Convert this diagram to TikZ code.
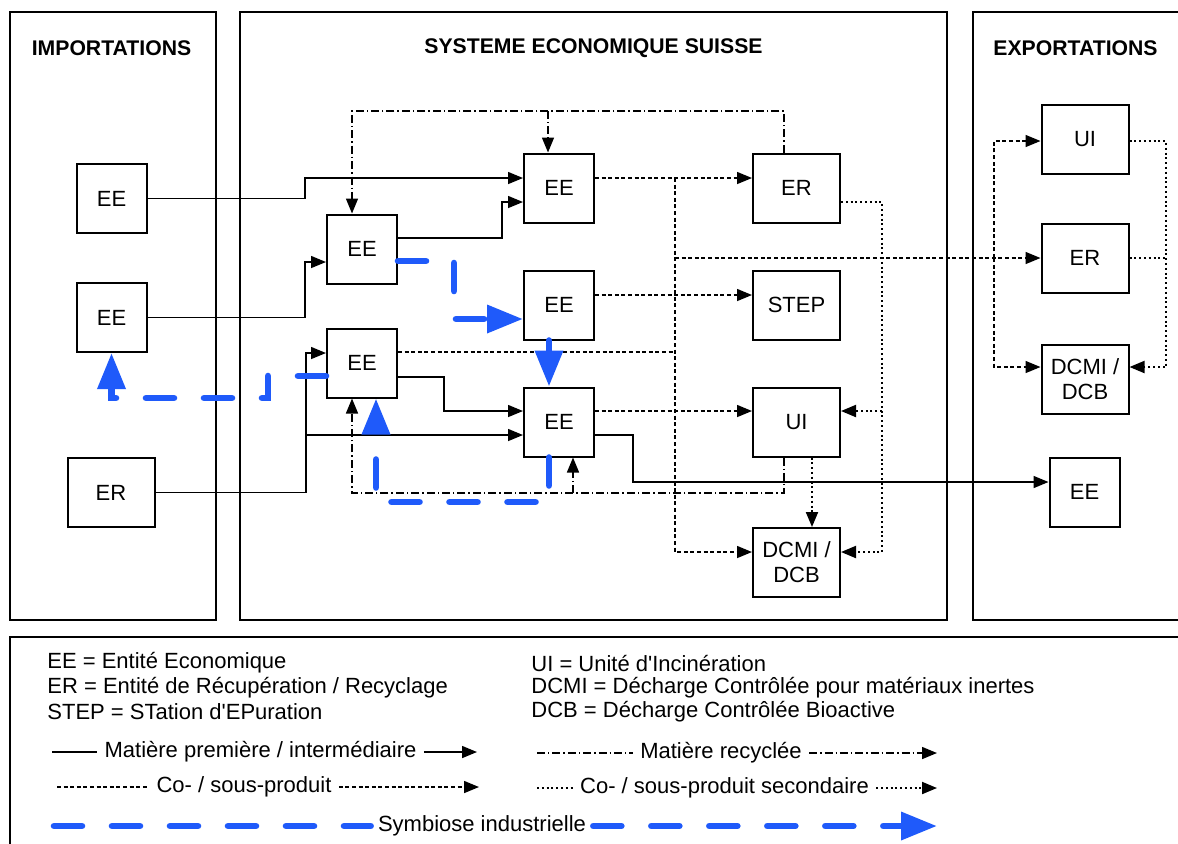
\documentclass[tikz,border=0pt]{standalone}
\usepackage{fontspec}
\setmainfont{Liberation Sans}
\usetikzlibrary{arrows.meta}

\definecolor{symblue}{RGB}{31,90,250}

\tikzset{
  entity/.style={draw,line width=1pt,minimum width=35pt,minimum height=34.5pt,
    inner sep=1pt,align=center,font=\fontsize{11}{12.5}\selectfont},
  bigentity/.style={entity,minimum width=43.5pt},
  panel/.style={draw,line width=0.8pt},
  paneltitle/.style={font=\bfseries\fontsize{10.6}{12}\selectfont},
  legtext/.style={inner sep=3.5pt,font=\fontsize{11}{12}\selectfont},
  flux/.style={line width=0.75pt,-{Triangle[length=7.5pt,width=6pt]}},
  matiere/.style={flux},
  recycle/.style={flux,dash pattern=on 4pt off 1.5pt on 0.7pt off 1.5pt},
  coprod/.style={flux,dash pattern=on 2pt off 1.3pt},
  secprod/.style={flux,line width=1pt,dash pattern=on 1pt off 1.4pt},
  symbiose/.style={line width=3.3pt,symblue,line cap=round,
    dash pattern=on 14pt off 15pt,-{Triangle[length=18pt,width=13.5pt]}}
}

\begin{document}
\begin{tikzpicture}[x=0.5pt,y=-0.5pt]
  \useasboundingbox (0,0) rectangle (1178,843);

  % cadres
  \draw[panel] (10,12) rectangle (216,620);
  \draw[panel] (240,12) rectangle (947,620);
  \draw[panel] (1186,12) -- (973,12) -- (973,620) -- (1186,620);
  \draw[panel] (1186,637) -- (10,637) -- (10,850);
  \node[paneltitle] (tImp) at (111.5,48) {IMPORTATIONS};
  \node[paneltitle] (tSys) at (593.5,48) {SYSTEME ECONOMIQUE SUISSE};
  \node[paneltitle] (tExp) at (1075.5,48) {EXPORTATIONS};

  % importations
  \node[entity] (impEEa) at (111.5,198.5) {EE};
  \node[entity] (impEEb) at (111.5,317.5) {EE};
  \node[bigentity] (impER) at (111,492.5) {ER};

  % systeme economique
  \node[entity] (eeB1) at (362,249) {EE};
  \node[entity] (eeB2) at (362,363) {EE};
  \node[entity] (eeA1) at (559,188) {EE};
  \node[entity] (eeA2) at (559,305) {EE};
  \node[entity] (eeA3) at (559,422) {EE};
  \node[bigentity] (erC) at (796.5,188) {ER};
  \node[bigentity] (step) at (796.5,305) {STEP};
  \node[bigentity] (uiC) at (796.5,422) {UI};
  \node[bigentity] (dcmiC) at (796.5,562.5) {DCMI /\\DCB};

  % exportations
  \node[bigentity] (uiX) at (1085,139.5) {UI};
  \node[bigentity] (erX) at (1085,258) {ER};
  \node[bigentity] (dcmiX) at (1085,379) {DCMI /\\DCB};
  \node[entity] (eeX) at (1084.5,492) {EE};

  % matiere premiere / intermediaire
  \draw[matiere] (impEEa.east) -- (305,198.5) |- ([yshift=5pt]eeA1.west);
  \draw[matiere] ([yshift=5.5pt]eeB1.east) -- (502,238) |- ([yshift=-7pt]eeA1.west);
  \draw[matiere] (impEEb.east) -- (305,317.5) |- ([yshift=-6.5pt]eeB1.west);
  \draw[matiere] (impER.east) -- (306,492.5) |- ([yshift=5pt]eeB2.west);
  \draw[matiere] (306,435) -- ([yshift=-6.5pt]eeA3.west);
  \draw[matiere] ([yshift=-7pt]eeB2.east) -- (444,377) |- ([yshift=5.5pt]eeA3.west);
  \draw[matiere] ([yshift=-6.5pt]eeA3.east) -- (633,435) |- ([yshift=5pt]eeX.west);

  % matiere recyclee
  \draw[recycle] ([xshift=-6.25pt]erC.north) |- (352,111) -- ([xshift=-5pt]eeB1.north);
  \draw[recycle] (548,111) -- ([xshift=-5.5pt]eeA1.north);
  \draw[recycle] ([xshift=-6.25pt]uiC.south) |- (352,493) -- ([xshift=-5pt]eeB2.south);
  \draw[recycle] (573,493) -- ([xshift=7pt]eeA3.south);

  % co- / sous-produit
  \draw[coprod] ([yshift=5pt]eeA1.east) -- ([yshift=5pt]erC.west);
  \draw[coprod] (675,178) |- ([yshift=5.25pt]dcmiC.west);
  \draw[coprod] ([yshift=5pt]eeA2.east) -- ([yshift=5pt]step.west);
  \draw[coprod,-] ([yshift=5.5pt]eeB2.east) -- (675,352);
  \draw[coprod] ([yshift=5.5pt]eeA3.east) -- ([yshift=5.5pt]uiC.west);
  \draw[coprod] (675,258) -- (erX.west);
  \draw[coprod] (994,258) |- ([yshift=-0.75pt]uiX.west);
  \draw[coprod] (994,258) |- ([yshift=6pt]dcmiX.west);

  % co- / sous-produit secondaire
  \draw[secprod] ([yshift=-7pt]erC.east) -- (882,202) |- ([yshift=5.25pt]dcmiC.east);
  \draw[secprod] (882,411) -- ([yshift=5.5pt]uiC.east);
  \draw[secprod] ([xshift=7.75pt]uiC.south) -- ([xshift=7.75pt]dcmiC.north);
  \draw[secprod] ([yshift=-0.75pt]uiX.east) -- (1166,141) |- ([yshift=6pt]dcmiX.east);
  \draw[secprod,-] (erX.east) -- (1166,258);

  % symbiose industrielle
  \draw[symbiose] ([yshift=-6pt]eeB1.east) -- (454,261) -- (454,319) -- ([yshift=-7pt]eeA2.west);
  \draw[symbiose] ([xshift=-5pt]eeA2.south) -- ([xshift=-5pt]eeA3.north);
  \draw[symbiose] ([xshift=-5pt]eeA3.south) -- (549,502) -| ([xshift=7pt]eeB2.south);
  \draw[symbiose] ([yshift=-6.5pt]eeB2.west) -- (268,376) -- (268,398) -| (impEEb.south);

  % legende
  \node[legtext,anchor=west] (defEE) at (40,663) {EE = Entité Economique};
  \node[legtext,anchor=west] (defER) at (40,688) {ER = Entité de Récupération / Recyclage};
  \node[legtext,anchor=west] (defSTEP) at (40,712) {STEP = STation d\textquotesingle EPuration};
  \node[legtext,anchor=west] (defUI) at (524,663) {UI = Unité d\textquotesingle Incinération};
  \node[legtext,anchor=west] (defDCMI) at (524,688) {DCMI = Décharge Contrôlée pour matériaux inertes};
  \node[legtext,anchor=west] (defDCB) at (524,712) {DCB = Décharge Contrôlée Bioactive};

  \node[legtext] (lgMat) at (260.5,752) {Matière première / intermédiaire};
  \draw[matiere,-] (52,752) -- (lgMat.west);
  \draw[matiere] (lgMat.east) -- (477,752);
  \node[legtext] (lgCo) at (244,787) {Co- / sous-produit};
  \draw[coprod,-] (57,787) -- (lgCo.west);
  \draw[coprod] (lgCo.east) -- (479,787);
  \node[legtext] (lgRec) at (721,753) {Matière recyclée};
  \draw[recycle,-] (537,753) -- (lgRec.west);
  \draw[recycle] (lgRec.east) -- (937,753);
  \node[legtext] (lgSec) at (724.5,788) {Co- / sous-produit secondaire};
  \draw[secprod,-] (537,788) -- (lgSec.west);
  \draw[secprod] (lgSec.east) -- (937,788);
  \node[legtext] (lgSym) at (482,826) {Symbiose industrielle};
  \draw[symbiose,-] (54,826) -- (lgSym.west);
  \draw[symbiose] (lgSym.east) -- (937,826);
\end{tikzpicture}
\end{document}
